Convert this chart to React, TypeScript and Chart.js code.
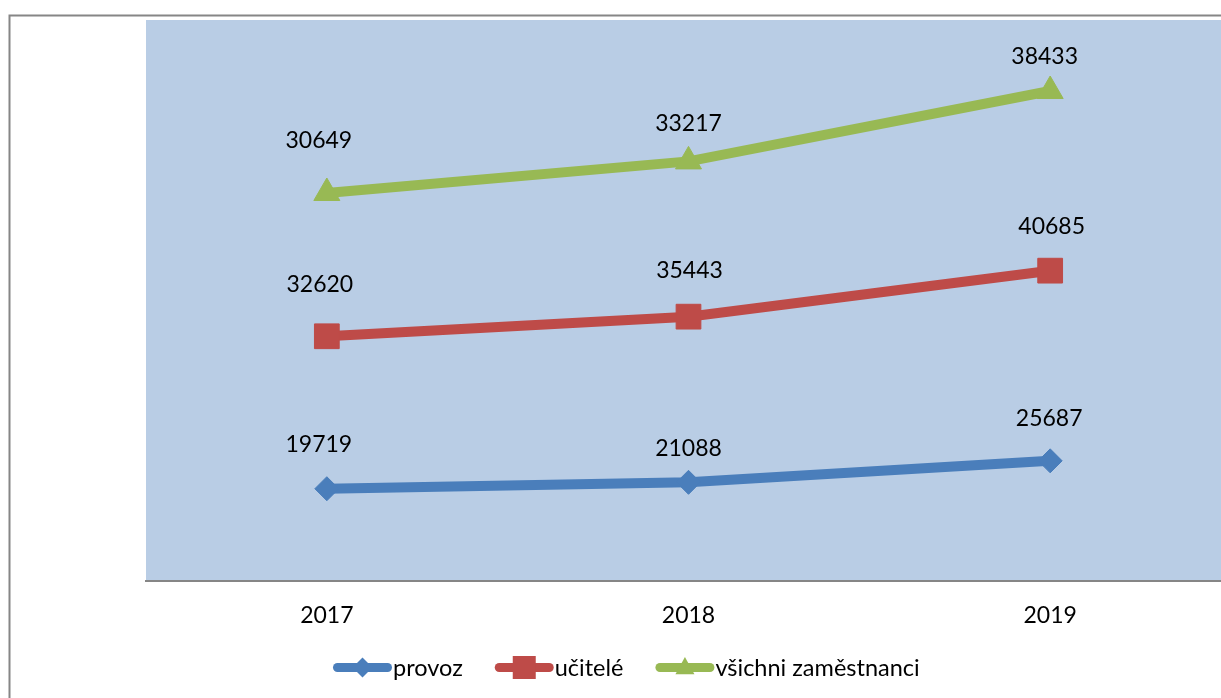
import { useEffect, useRef } from "react";
import { Chart, registerables } from "chart.js";

Chart.register(...registerables);

// ---- data ----
const years = ["2017", "2018", "2019"];
const provoz = [19719, 21088, 25687];
const ucitele = [32620, 35443, 40685];
const vsichni = [30649, 33217, 38433];
const seriesNames = ["provoz", "učitelé", "všichni zaměstnanci"];
const yMin = 0;
const yMax = 120000;

// ---- styles ----
const colors = ["#4A7EBB", "#BE4B48", "#98B954"];
const plotBg = "#B9CDE5";
const frameColor = "#868686";
const FONT = "Lato";

// label placement shifts in px relative to each point: [dx, dy above]
const labelShift: number[][][] = [
  [[-8, 44], [0, 34], [-1, 42]],
  [[-7, 52], [1, 46], [1.5, 44]],
  [[-8, 52], [0, 38], [-5.5, 34]],
];

const markerStyles = ["rectRot", "rect", "triangle"];

function drawMarker(ctx: CanvasRenderingContext2D, kind: string, x: number, y: number, s: number) {
  ctx.beginPath();
  if (kind === "rectRot") {
    ctx.moveTo(x, y - s);
    ctx.lineTo(x + s, y);
    ctx.lineTo(x, y + s);
    ctx.lineTo(x - s, y);
  } else if (kind === "rect") {
    ctx.rect(x - s, y - s, 2 * s, 2 * s);
  } else {
    ctx.moveTo(x, y - s * 1.1);
    ctx.lineTo(x + s, y + s * 0.7);
    ctx.lineTo(x - s, y + s * 0.7);
  }
  ctx.closePath();
  ctx.fill();
}

const framePlugin = {
  id: "framePlugin",
  beforeDraw(chart: any) {
    const { ctx, chartArea } = chart;
    ctx.save();
    ctx.fillStyle = plotBg;
    ctx.fillRect(chartArea.left, chartArea.top, chartArea.right - chartArea.left, chartArea.bottom - chartArea.top);
    ctx.strokeStyle = frameColor;
    ctx.lineWidth = 2;
    ctx.strokeRect(9.5, 15.5, chart.width + 40, chart.height + 40);
    ctx.restore();
  },
};

const labelPlugin = {
  id: "labelPlugin",
  afterDatasetsDraw(chart: any) {
    const { ctx } = chart;
    ctx.save();
    ctx.font = `23px ${FONT}`;
    ctx.fillStyle = "#000000";
    ctx.textAlign = "center";
    ctx.textBaseline = "middle";
    chart.data.datasets.forEach((ds: any, i: number) => {
      const meta = chart.getDatasetMeta(i);
      meta.data.forEach((pt: any, j: number) => {
        const [dx, dy] = labelShift[i][j];
        ctx.fillText(String(ds.data[j]), pt.x + dx, pt.y - dy);
      });
    });
    ctx.restore();
  },
};

const legendPlugin = {
  id: "customLegend",
  afterDraw(chart: any) {
    const { ctx } = chart;
    ctx.save();
    ctx.font = `23.5px ${FONT}`;
    ctx.textBaseline = "alphabetic";
    ctx.textAlign = "left";
    const lineLen = 59;
    const gap = 32;
    const yLine = 667.5;
    let x = 333;
    seriesNames.forEach((name, i) => {
      ctx.strokeStyle = colors[i];
      ctx.fillStyle = colors[i];
      ctx.lineWidth = 9;
      ctx.lineCap = "round";
      ctx.beginPath();
      ctx.moveTo(x + 4.5, yLine);
      ctx.lineTo(x + lineLen - 4.5, yLine);
      ctx.stroke();
      const s = i === 0 ? 10 : i === 1 ? 11.5 : 9.5;
      drawMarker(ctx, markerStyles[i], x + lineLen / 2, yLine, s);
      ctx.fillStyle = "#000000";
      ctx.fillText(name, x + lineLen + 1, 676);
      x += lineLen + 1 + ctx.measureText(name).width + gap;
    });
    ctx.restore();
  },
};

export default function App() {
  const ref = useRef<HTMLCanvasElement | null>(null);

  useEffect(() => {
    let chart: Chart | null = null;
    let cancelled = false;
    const make = () => {
      if (cancelled || !ref.current) return;
      const series = [provoz, ucitele, vsichni];
      chart = new Chart(ref.current, {
        type: "line",
        data: {
          labels: years,
          datasets: series.map((d, i) => ({
            label: seriesNames[i],
            data: d,
            borderColor: colors[i],
            backgroundColor: colors[i],
            borderWidth: 10,
            fill: false,
            tension: 0,
            pointStyle: markerStyles[i] as any,
            pointRadius: i === 0 ? 12 : i === 1 ? 17.5 : 15,
            pointBorderWidth: 1,
            pointBackgroundColor: colors[i],
            pointBorderColor: colors[i],
          })),
        },
        options: {
          responsive: false,
          animation: false,
          events: [],
          layout: { autoPadding: false, padding: { left: 146, top: 20, right: 0, bottom: 48.5 } },
          plugins: {
            legend: { display: false },
            tooltip: { enabled: false },
          },
          scales: {
            x: {
              offset: true,
              grid: { display: false, drawTicks: false },
              border: { display: true, color: frameColor, width: 2 },
              ticks: { font: { family: FONT, size: 23 }, color: "#000000", padding: 20.5 },
            },
            y: {
              display: false,
              stacked: true,
              min: yMin,
              max: yMax,
            },
          },
        },
        plugins: [framePlugin, labelPlugin, legendPlugin],
      });
    };
    const fontsReady = (document as any).fonts?.load
      ? (document as any).fonts.load(`23px ${FONT}`).catch(() => undefined)
      : Promise.resolve();
    fontsReady.then(make);
    return () => {
      cancelled = true;
      if (chart) chart.destroy();
    };
  }, []);

  return (
    <div style={{ position: "fixed", left: 0, top: 0, width: 1221, height: 698, overflow: "hidden", background: "#ffffff" }}>
      <canvas ref={ref} width={1231} height={698} style={{ display: "block", width: 1231, height: 698 }} />
    </div>
  );
}
